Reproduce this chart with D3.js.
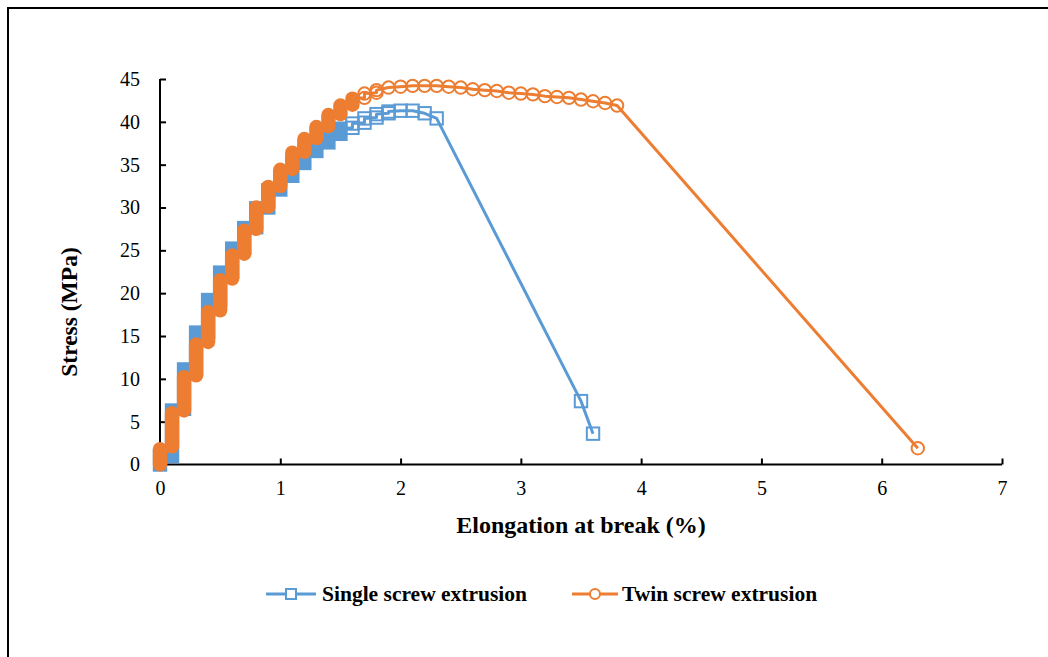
<!DOCTYPE html>
<html>
<head>
<meta charset="utf-8">
<script src="https://cdn.jsdelivr.net/npm/d3@7"></script>
<style>
  html, body { margin: 0; padding: 0; background: #fff; }
  svg { display: block; }
  svg text { font-family: 'Liberation Serif', 'Times New Roman', serif !important; }
</style>
</head>
<body>
<svg id="chart" width="1048" height="657"></svg>
<script>
// ---- data (stacks of measured points at each elongation step: low..high stress) ----
const singleX    = [0, 0.1, 0.2, 0.3, 0.4, 0.5, 0.6, 0.7, 0.8, 0.9, 1.0, 1.1, 1.2, 1.3, 1.4, 1.5, 1.6, 1.7, 1.8, 1.9, 2.0, 2.1, 2.2, 2.3, 3.5, 3.6];
const singleLow  = [0, 1.0, 6.5, 11.2, 15.5, 19.3, 22.5, 25.3, 27.7, 30.0, 32.1, 33.7, 35.2, 36.6, 37.6, 38.6, 39.3, 39.9, 40.5, 41.0, 41.3, 41.3, 41.0, 40.4, 7.4, 3.6];
const singleHigh = [1.0, 6.3, 11.1, 15.4, 19.2, 22.4, 25.2, 27.6, 29.9, 32.0, 33.6, 35.1, 36.5, 37.5, 38.5, 39.2, 39.8, 40.4, 40.9, 41.2, 41.3, 41.3, 41.0, 40.4, 7.4, 3.6];

const twinX    = [0, 0.1, 0.2, 0.3, 0.4, 0.5, 0.6, 0.7, 0.8, 0.9, 1.0, 1.1, 1.2, 1.3, 1.4, 1.5, 1.6, 1.7, 1.8, 1.9, 2.0, 2.1, 2.2, 2.3, 2.4, 2.5, 2.6, 2.7, 2.8, 2.9, 3.0, 3.1, 3.2, 3.3, 3.4, 3.5, 3.6, 3.7, 3.8, 6.3];
const twinLow  = [0, 2.1, 6.3, 10.4, 14.3, 18.0, 21.7, 24.6, 27.5, 30.1, 32.5, 34.5, 36.5, 38.1, 39.5, 40.9, 42.0, 42.8, 43.4, 44.0, 44.1, 44.2, 44.2, 44.2, 44.1, 44.0, 43.8, 43.7, 43.6, 43.4, 43.3, 43.2, 43.0, 42.9, 42.8, 42.6, 42.4, 42.2, 41.9, 1.9];
const twinHigh = [1.8, 6.0, 10.2, 14.0, 17.8, 21.5, 24.4, 27.3, 30.0, 32.4, 34.4, 36.4, 38.0, 39.4, 40.8, 41.9, 42.7, 43.3, 43.7, 44.0, 44.1, 44.2, 44.2, 44.2, 44.1, 44.0, 43.8, 43.7, 43.6, 43.4, 43.3, 43.2, 43.0, 42.9, 42.8, 42.6, 42.4, 42.2, 41.9, 1.9];

const xTicks = [0, 1, 2, 3, 4, 5, 6, 7];
const yTicks = [0, 5, 10, 15, 20, 25, 30, 35, 40, 45];
const seriesNames = ["Single screw extrusion", "Twin screw extrusion"];
const xTitle = "Elongation at break (%)";
const yTitle = "Stress (MPa)";

// ---- layout ----
const svg = d3.select("#chart");
const plot = { left: 160, right: 1002, top: 79, bottom: 464.5 };
const x = d3.scaleLinear().domain([0, 7]).range([plot.left, plot.right]);
const y = d3.scaleLinear().domain([0, 45]).range([plot.bottom, plot.top]);
const BLUE = "#5B9BD5", ORANGE = "#ED7D31";

// outer frame (right/bottom edges lie outside the picture)
svg.append("rect").attr("x", 8).attr("y", 8).attr("width", 1200).attr("height", 800)
  .attr("fill", "none").attr("stroke", "#000").attr("stroke-width", 2);

// axes
const xAxis = d3.axisBottom(x).tickValues(xTicks).tickSize(-6).tickPadding(16).tickFormat(d3.format("d"));
const yAxis = d3.axisLeft(y).tickValues(yTicks).tickSize(-6).tickPadding(20).tickFormat(d3.format("d"));

const gx = svg.append("g").attr("transform", `translate(0,${plot.bottom})`).call(xAxis);
const gy = svg.append("g").attr("transform", `translate(${plot.left},0)`).call(yAxis);
[gx, gy].forEach(g => {
  g.attr("font-family", null);
  g.select(".domain").attr("stroke", "#000").attr("stroke-width", 2);
  g.selectAll(".tick line").attr("stroke", "#000").attr("stroke-width", 2);
  g.selectAll(".tick text").attr("fill", "#000").style("font-size", "20px");
});
gx.select(".domain").attr("d", `M${plot.left},0H${plot.right}`);
gy.select(".domain").attr("d", `M0,${plot.bottom}V${plot.top}`);
gx.selectAll(".tick text").attr("dy", "0.71em");

// series drawing
function makeSeries(xs, lows, highs) {
  return xs.map((v, i) => ({ x: v, lo: lows[i], hi: highs[i] }));
}
function linePoints(s) {
  const pts = [];
  s.forEach(d => {
    pts.push([d.x, d.lo]);
    if (d.hi !== d.lo) pts.push([d.x, d.hi]);
  });
  return pts;
}
const line = d3.line().x(d => x(d[0])).y(d => y(d[1]));

function drawSeries(s, color, shape) {
  const g = svg.append("g");
  g.append("path").attr("d", line(linePoints(s)))
    .attr("fill", "none").attr("stroke", color).attr("stroke-width", 3).attr("stroke-linejoin", "round");
  const half = 6.2;
  s.forEach(d => {
    const yTop = y(d.hi), yBot = y(d.lo);
    const span = yBot - yTop;
    if (span > 5) {
      // dense stack of overlapping markers -> appears solid
      g.append("rect")
        .attr("x", x(d.x) - half - 1).attr("width", 2 * half + 2)
        .attr("y", yTop - half - 1).attr("height", span + 2 * half + 2)
        .attr("rx", shape === "circle" ? half + 1 : 0)
        .attr("fill", color);
    } else {
      const vals = span > 0.5 ? [d.lo, d.hi] : [d.lo];
      vals.forEach(v => {
        if (shape === "square") {
          g.append("rect").attr("x", x(d.x) - half).attr("y", y(v) - half)
            .attr("width", 2 * half).attr("height", 2 * half)
            .attr("fill", "none").attr("stroke", color).attr("stroke-width", 2);
        } else {
          g.append("circle").attr("cx", x(d.x)).attr("cy", y(v)).attr("r", half)
            .attr("fill", "none").attr("stroke", color).attr("stroke-width", 2);
        }
      });
    }
  });
}

drawSeries(makeSeries(singleX, singleLow, singleHigh), BLUE, "square");
drawSeries(makeSeries(twinX, twinLow, twinHigh), ORANGE, "circle");

// axis titles
svg.append("text").attr("x", 581).attr("y", 533)
  .attr("text-anchor", "middle").attr("font-weight", "bold").style("font-size", "24px").text(xTitle);
svg.append("text").attr("transform", "translate(77,312) rotate(-90)")
  .attr("text-anchor", "middle").attr("font-weight", "bold").style("font-size", "23.5px").text(yTitle);

// legend
const legend = [
  { name: seriesNames[0], color: BLUE, shape: "square", x0: 266, x1: 316, tx: 322 },
  { name: seriesNames[1], color: ORANGE, shape: "circle", x0: 572, x1: 618, tx: 622 }
];
const ly = 594;
legend.forEach(l => {
  svg.append("line").attr("x1", l.x0).attr("x2", l.x1).attr("y1", ly).attr("y2", ly)
    .attr("stroke", l.color).attr("stroke-width", 3);
  const cx = (l.x0 + l.x1) / 2;
  if (l.shape === "square") {
    svg.append("rect").attr("x", cx - 5).attr("y", ly - 5).attr("width", 10).attr("height", 10)
      .attr("fill", "#fff").attr("stroke", l.color).attr("stroke-width", 2);
  } else {
    svg.append("circle").attr("cx", cx).attr("cy", ly).attr("r", 5)
      .attr("fill", "#fff").attr("stroke", l.color).attr("stroke-width", 2);
  }
  svg.append("text").attr("x", l.tx).attr("y", ly + 7).attr("font-weight", "bold")
    .style("font-size", "21.5px").text(l.name);
});
</script>
</body>
</html>
